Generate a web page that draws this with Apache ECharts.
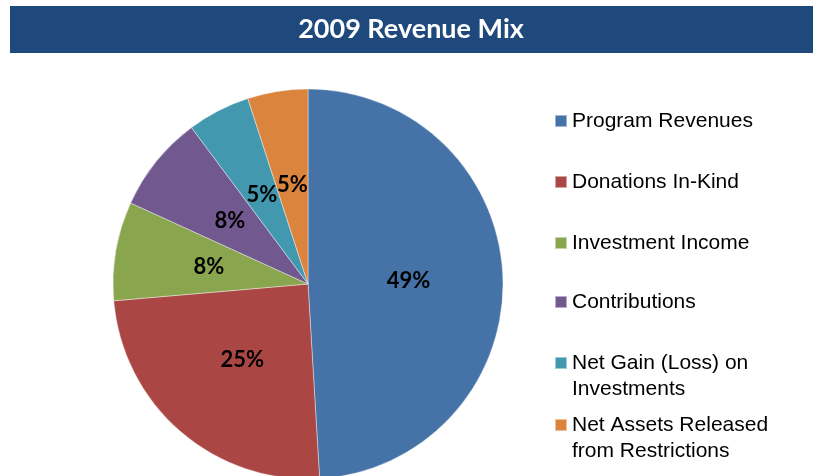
<!DOCTYPE html>
<html>
<head>
<meta charset="utf-8">
<script src="https://cdn.jsdelivr.net/npm/echarts@6/dist/echarts.min.js"></script>
<style>
  html, body { margin: 0; padding: 0; background: #fff; }
  #chart { width: 816px; height: 476px; }
</style>
</head>
<body>
<div id="chart"></div>
<script>
// (share of revenue, %)
let categories = [
    'Program Revenues',
    'Donations In-Kind',
    'Investment Income',
    'Contributions',
    'Net Gain (Loss) on\nInvestments',
    'Net Assets Released\nfrom Restrictions'
];
let values = [49.1, 24.6, 8.2, 8.0, 5.2, 5.0];
let colors = ['#4572A7', '#AA4643', '#89A54E', '#71588F', '#4198AF', '#DB843D'];

// legend rows, top of each row
let legendTops = [108, 169, 230, 289, 350, 412];

// square on the first line only, for the two-line names
let tallIcon = 'path://M0,0h12v12h-12z M0,37.9h0.1v0.1h-0.1z';

let chart = echarts.init(document.getElementById('chart'));

let legends = categories.map((name, i) => ({
    data: [{ name, icon: name.indexOf('\n') >= 0 ? tallIcon : 'rect' }],
    orient: 'vertical',
    left: 554,
    top: legendTops[i],
    padding: 0,
    itemWidth: 12,
    itemHeight: name.indexOf('\n') >= 0 ? 38 : 12,
    selectedMode: false,
    textStyle: {
        fontFamily: '"Liberation Sans", Arial, sans-serif',
        fontSize: 21,
        lineHeight: 26,
        color: '#000'
    }
}));

let option = {
    backgroundColor: '#fff',
    animation: false,
    graphic: [{
        type: 'rect',
        left: 10,
        top: 6,
        shape: { width: 803, height: 47 },
        style: { fill: '#1F497D' },
        z: 0
    }],
    title: {
        text: '2009 Revenue Mix',
        left: 411,
        top: 29,
        textAlign: 'center',
        textVerticalAlign: 'middle',
        padding: 0,
        textStyle: {
            fontFamily: 'Lato, sans-serif',
            fontWeight: 'bold',
            fontSize: 27,
            color: '#fff'
        },
        z: 5
    },
    legend: legends,
    series: [{
        type: 'pie',
        center: [308, 284],
        radius: 195,
        startAngle: 90,
        clockwise: true,
        silent: true,
        avoidLabelOverlap: false,
        color: colors,
        itemStyle: {
            borderColor: 'rgba(255,255,255,0.5)',
            borderWidth: 0.8
        },
        label: {
            position: 'inside',
            formatter: p => Math.round(p.value) + '%',
            fontFamily: 'Lato, sans-serif',
            fontWeight: 'bold',
            fontSize: 22,
            color: '#000'
        },
        labelLayout: { hideOverlap: false },
        labelLine: { show: false },
        data: categories.map((name, i) => ({ name, value: values[i] }))
    }]
};

chart.setOption(option);
</script>
</body>
</html>
